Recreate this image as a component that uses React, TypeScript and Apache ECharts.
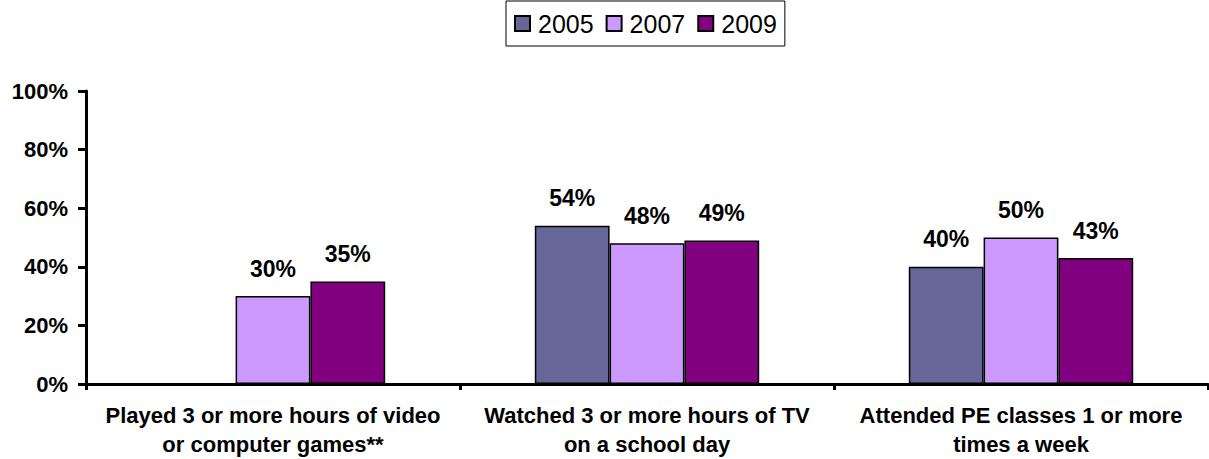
import React, { useEffect, useRef } from "react";
import * as echarts from "echarts";

const categories = [
  "Played 3 or more hours of video\nor computer games**",
  "Watched 3 or more hours of TV\non a school day",
  "Attended PE classes 1 or more\ntimes a week",
];
const seriesNames = ["2005", "2007", "2009"];
const values2005: (number | null)[] = [null, 54, 40];
const values2007: (number | null)[] = [30, 48, 50];
const values2009: (number | null)[] = [35, 49, 43];
const colors = ["#666699", "#CC99FF", "#800080"];
const yTicks = [0, 20, 40, 60, 80, 100];

export default function App() {
  const ref = useRef<HTMLDivElement>(null);
  useEffect(() => {
    if (!ref.current) return;
    const chart = echarts.init(ref.current, null, { renderer: "svg" });
    const font = "Liberation Sans, Arial, sans-serif";
    const data = [values2005, values2007, values2009];
    chart.setOption({
      animation: false,
      legend: {
        left: 506,
        top: 1,
        data: seriesNames,
        icon: "rect",
        itemWidth: 15,
        itemHeight: 15,
        itemGap: 12,
        padding: [10, 8, 10, 8],
        borderColor: "#000",
        borderWidth: 1,
        textStyle: { fontFamily: font, fontSize: 25, color: "#000", padding: [0, 0, 0, 3] },
      },
      grid: { left: 86, right: 1, top: 91, bottom: 73, containLabel: false },
      xAxis: {
        type: "category",
        data: categories,
        axisLine: { lineStyle: { color: "#000", width: 3 } },
        axisTick: { show: true, length: 6, lineStyle: { color: "#000", width: 3 } },
        axisLabel: {
          interval: 0,
          margin: 17,
          fontFamily: font,
          fontWeight: "bold",
          fontSize: 22,
          lineHeight: 29,
          color: "#000",
        },
      },
      yAxis: {
        type: "value",
        min: yTicks[0],
        max: yTicks[yTicks.length - 1],
        interval: 20,
        splitLine: { show: false },
        axisLine: { show: true, lineStyle: { color: "#000", width: 3 } },
        axisTick: { show: true, length: 8, lineStyle: { color: "#000", width: 3 } },
        axisLabel: {
          margin: 18,
          formatter: "{value}%",
          fontFamily: font,
          fontWeight: "bold",
          fontSize: 22,
          color: "#000",
        },
      },
      series: seriesNames.map((name, i) => ({
        name,
        type: "bar",
        data: data[i],
        barGap: "0%",
        barCategoryGap: "40%",
        itemStyle: { color: colors[i], borderColor: "#000", borderWidth: 1.5 },
        label: {
          show: true,
          position: "top",
          distance: 16,
          formatter: "{c}%",
          fontFamily: font,
          fontWeight: "bold",
          fontSize: 23,
          color: "#000",
        },
      })),
    });
    return () => chart.dispose();
  }, []);
  return (
    <div
      ref={ref}
      style={{ position: "fixed", left: 0, top: 0, width: 1209, height: 459, background: "#fff" }}
    />
  );
}
